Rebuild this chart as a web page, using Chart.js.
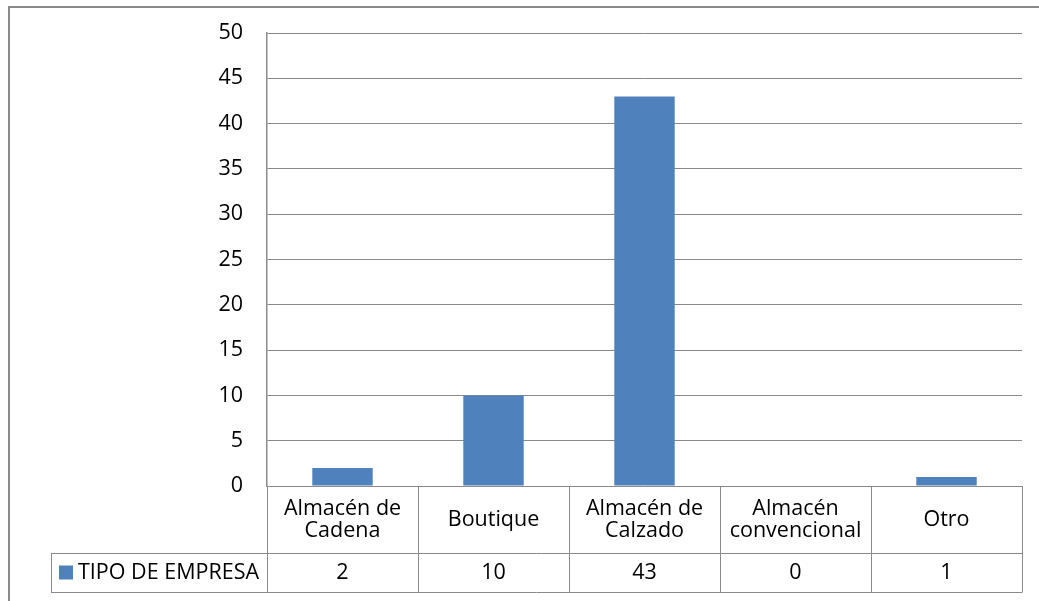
<!DOCTYPE html>
<html><head><meta charset="utf-8">
<script src="https://cdn.jsdelivr.net/npm/chart.js@4"></script>
<style>html,body{margin:0;padding:0;background:#fff;overflow:hidden}#wrap{width:1039px;height:601px;position:relative}</style>
</head><body><div id="wrap"><canvas id="c" width="1039" height="601"></canvas></div>
<script>
const categories = [["Almacén de","Cadena"],["Boutique"],["Almacén de","Calzado"],["Almacén","convencional"],["Otro"]];
const seriesName = "TIPO DE EMPRESA";
const seriesValues = [2, 10, 43, 0, 1];
const yMin = 0, yMax = 50, yStep = 5;

const LINE = '#8a8a8a';
const FAMILY = '"Open Sans"';
const SIZE = 21.5;
const FONT = SIZE + 'px ' + FAMILY;
Chart.defaults.font.family = FAMILY;
Chart.defaults.font.size = SIZE;
Chart.defaults.color = '#000';

const tablePlugin = {
  id: 'dataTable',
  afterDraw(chart) {
    const ctx = chart.ctx, x = chart.scales.x, a = chart.chartArea;
    const n = categories.length;
    const edges = [a.left];
    for (let i = 1; i < n; i++) edges.push((x.getPixelForValue(i - 1) + x.getPixelForValue(i)) / 2);
    edges.push(a.right);
    const rowTop = a.bottom, rowMid = 553, rowBot = 592, legendLeft = 51;
    ctx.save();
    ctx.strokeStyle = LINE; ctx.lineWidth = 1;
    ctx.beginPath();
    ctx.moveTo(legendLeft, rowMid + 0.5); ctx.lineTo(a.right, rowMid + 0.5);
    ctx.moveTo(legendLeft, rowBot + 0.5); ctx.lineTo(a.right, rowBot + 0.5);
    edges.forEach(e => { const px = Math.round(e) + 0.5; ctx.moveTo(px, rowTop); ctx.lineTo(px, rowBot + 0.5); });
    ctx.moveTo(legendLeft + 0.5, rowMid); ctx.lineTo(legendLeft + 0.5, rowBot + 0.5);
    ctx.stroke();
    ctx.fillStyle = '#000'; ctx.font = FONT; ctx.textAlign = 'center'; ctx.textBaseline = 'middle';
    const catMid = (rowTop + rowMid) / 2, valMid = (rowMid + rowBot) / 2;
    categories.forEach((lines, i) => {
      const cx = x.getPixelForValue(i);
      lines.forEach((t, j) => ctx.fillText(t, cx, catMid + (j - (lines.length - 1) / 2) * 22));
      ctx.fillText(String(chart.data.datasets[0].data[i]), cx, valMid);
    });
    ctx.fillStyle = chart.data.datasets[0].backgroundColor;
    ctx.fillRect(59, valMid - 7, 14, 14);
    ctx.fillStyle = '#000'; ctx.textAlign = 'left';
    ctx.fillText(chart.data.datasets[0].label, 78, valMid);
    ctx.strokeStyle = LINE; ctx.lineWidth = 2;
    ctx.strokeRect(9, 7, 1200, 800);
    ctx.restore();
  }
};

new Chart(document.getElementById('c'), {
  type: 'bar',
  data: {
    labels: categories,
    datasets: [{
      label: seriesName,
      data: seriesValues,
      backgroundColor: '#4F81BD',
      barPercentage: 0.4,
      categoryPercentage: 1.0
    }]
  },
  options: {
    responsive: false,
    animation: false,
    devicePixelRatio: 1,
    layout: { padding: { left: 0, top: 33, right: 17, bottom: 115 } },
    plugins: { legend: { display: false }, tooltip: { enabled: false } },
    scales: {
      x: { display: false },
      y: {
        min: yMin, max: yMax,
        ticks: { stepSize: yStep, padding: 4, color: '#000', font: { family: FAMILY, size: SIZE } },
        grid: { color: LINE, lineWidth: 1, drawTicks: true, tickLength: 20, tickColor: 'rgba(0,0,0,0)' },
        border: { display: true, color: LINE, width: 1.5 },
        afterFit(s) { s.width = 267; }
      }
    }
  },
  plugins: [tablePlugin]
});
</script>
</body></html>
